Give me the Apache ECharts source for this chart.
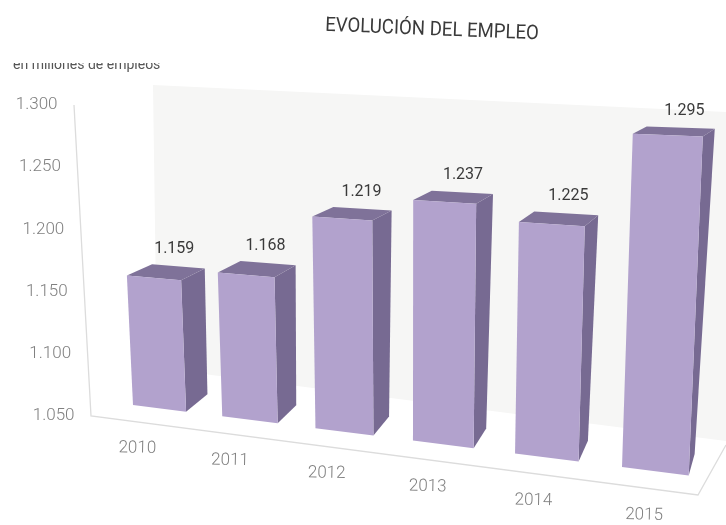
<!DOCTYPE html>
<html>
<head>
<meta charset="utf-8">
<style>html,body{margin:0;padding:0;background:#fff}#chart{width:726px;height:525px}</style>
<script src="https://cdn.jsdelivr.net/npm/echarts@6/dist/echarts.min.js"></script>
</head>
<body>
<div id="chart"></div>
<script>
// Employment series
const years = ['2010', '2011', '2012', '2013', '2014', '2015'];
const empleo = [1.159, 1.168, 1.219, 1.237, 1.225, 1.295];
const yTicks = [1.05, 1.10, 1.15, 1.20, 1.25, 1.30];
const titleText = 'EVOLUCIÓN DEL EMPLEO';
const unitText = 'en millones de empleos';

const yMin = 1.05, yMax = 1.30;
const barShare = 0.6;              // bar width as a share of its category band
const firstEdge = 0.5 - barShare / 2;
const foreshorten = 1.12;          // how much closer the last bar sits than the first

const FRONT = '#b2a2cd', SIDE = '#776a92', TOP = '#7f7299';
const FONT = 'Roboto, "Liberation Sans", sans-serif';

// Perspective-like map from the unit square onto a quad [p00, p10, p11, p01]
function quadMap(q) {
  const [[x0, y0], [x1, y1], [x2, y2], [x3, y3]] = q;
  return (s, v) => {
    const t = s / (s + (1 - s) * foreshorten);
    const lx = x0 + (x3 - x0) * v, ly = y0 + (y3 - y0) * v;
    const rx = x1 + (x2 - x1) * v, ry = y1 + (y2 - y1) * v;
    return [lx + (rx - lx) * t, ly + (ry - ly) * t];
  };
}

// Planes through the front and the back faces of the bars
const frontPlane = quadMap([[133, 405], [622, 467], [633, 127], [119, 108]]);
const backPlane = quadMap([[156, 388], [630, 446], [647, 120], [147, 104]]);

// Turns a data pair into plane parameters using the hidden cartesian axes
function toPlane(api, params, index, offset, value) {
  const cs = params.coordSys;
  const p = api.coord([index, value]);
  const band = api.size([1, 0])[0];
  const u = (p[0] - cs.x - band / 2) / band + offset;
  return [(u - firstEdge) / (years.length - 1), (cs.y + cs.height - p[1]) / cs.height];
}

function poly(points, fill) {
  return { type: 'polygon', shape: { points }, style: { fill }, silent: true };
}
function label(text, x, y, fill, align, font, rotation, scaleX) {
  return {
    type: 'text', x, y, rotation: rotation || 0, scaleX: scaleX || 1, silent: true,
    style: { text, fill, font, align: align || 'center', verticalAlign: 'middle' }
  };
}

function renderBar(params, api) {
  const i = api.value(0), v = api.value(1);
  const corner = (off, val, plane) => {
    const q = toPlane(api, params, i, off, val);
    return plane(q[0], q[1]);
  };
  const l = firstEdge, r = firstEdge + barShare;
  const fbl = corner(l, yMin, frontPlane), fbr = corner(r, yMin, frontPlane);
  const ftl = corner(l, v, frontPlane), ftr = corner(r, v, frontPlane);
  const bbr = corner(r, yMin, backPlane), btr = corner(r, v, backPlane), btl = corner(l, v, backPlane);
  const mid = corner(0.5, v, backPlane);
  const k = i / (years.length - 1);
  return {
    type: 'group',
    children: [
      poly([ftr, fbr, bbr, btr], SIDE),
      poly([ftl, ftr, btr, btl], TOP),
      poly([ftl, ftr, fbr, fbl], FRONT),
      label(v.toFixed(3), mid[0] - 4 + 8 * k, mid[1] - 17, '#3a3a3a', 'center', '16px ' + FONT)
    ]
  };
}

// Wall, floor edges, tick labels and headings
function renderFrame(params, api) {
  const cs = params.coordSys;
  const kids = [
    poly([[153, 85], [726, 112], [726, 441], [157, 368]], '#f6f6f5'),
    { type: 'polyline', shape: { points: [[74, 105], [91, 416], [698, 495], [726, 445]] }, silent: true,
      style: { stroke: '#dcdcdc', lineWidth: 1.3, fill: null } }
  ];
  yTicks.forEach(t => {
    const y = api.coord([0, t])[1];
    const f = (cs.y + cs.height - y) / cs.height;
    const ax = 91 - 17 * f, ay = 416 - 311 * f;
    kids.push(label(t.toFixed(3), ax - 16.5, ay, '#808080', 'right', '300 17px ' + FONT));
  });
  years.forEach((name, i) => {
    const q = toPlane(api, params, i, 0.5, yMin);
    const p = frontPlane(q[0], q[1]);
    const k = i / (years.length - 1);
    kids.push(label(name, p[0] - 22 + 11 * k, p[1] + 40 + 4 * k, '#808080', 'center', '300 17px ' + FONT, -0.02));
  });
  kids.push(label(unitText, 13, 65, '#555555', 'left', '14px ' + FONT));
  kids.push({ type: 'rect', shape: { x: 0, y: 46, width: 300, height: 17 }, style: { fill: '#ffffff' }, silent: true });
  kids.push(label(titleText, 432, 30, '#3a3a3a', 'center', '20px ' + FONT, -0.04, 0.93));
  return { type: 'group', children: kids };
}

const chart = echarts.init(document.getElementById('chart'), null, { renderer: 'canvas' });
chart.setOption({
  animation: false,
  backgroundColor: '#ffffff',
  grid: { left: 0, right: 0, top: 0, bottom: 0 },
  xAxis: { type: 'category', data: years, show: false },
  yAxis: { type: 'value', min: yMin, max: yMax, interval: 0.05, show: false },
  series: [
    { type: 'custom', coordinateSystem: 'cartesian2d', clip: false, silent: true, z: 1,
      data: [[0, yMin]], renderItem: renderFrame },
    { type: 'custom', name: 'Empleo', coordinateSystem: 'cartesian2d', clip: false, silent: true, z: 2,
      encode: { x: 0, y: 1 },
      data: empleo.map((v, i) => [i, v]), renderItem: renderBar }
  ]
});
</script>
</body>
</html>
